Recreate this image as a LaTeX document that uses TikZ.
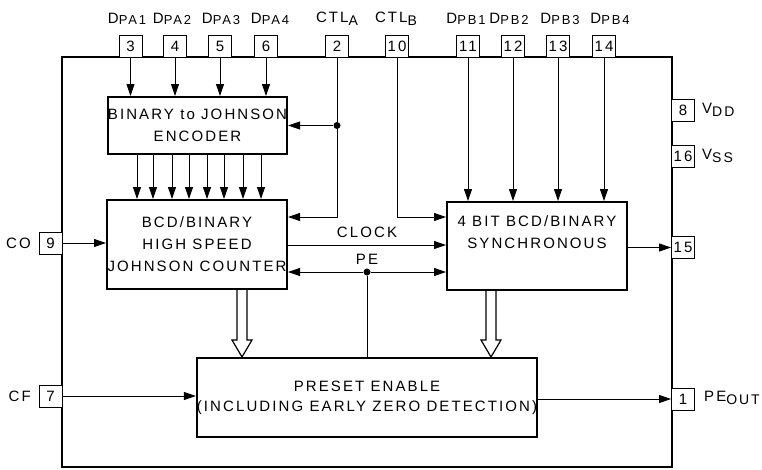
\documentclass[tikz,border=0pt]{standalone}
\usepackage{fontspec}
\setmainfont{Liberation Sans}[LetterSpace=14]
\usetikzlibrary{arrows.meta,calc}
\newcommand\mysm[1]{\raisebox{-1pt}{\fontsize{13}{13}\selectfont #1}}
\newcommand\mysub[1]{\raisebox{-3.5pt}{\fontsize{14}{14}\selectfont #1}}
\begin{document}
\begin{tikzpicture}[x=1pt,y=-1pt, font=\fontsize{15}{22}\selectfont,
 blk/.style={draw, line width=2pt, inner sep=0pt, align=center},
 pin/.style={draw, fill=white, line width=0.9pt, minimum width=23pt, minimum height=22pt, inner sep=0pt},
 arr/.style={line width=0.9pt, -{Triangle[length=12pt,width=8pt]}},
 wire/.style={line width=0.9pt},
 dot/.style={circle, fill, inner sep=0pt, minimum size=7pt},
 lbl/.style={inner sep=0pt},
 hollow/.style={line width=1.2pt, fill=white}]
\useasboundingbox (0,0) rectangle (762,469);
% chip outline
\node[draw, line width=1.5pt, minimum width=610pt, minimum height=410pt, inner sep=0pt] (chip) at (367,262) {};
% top pins
\node[pin] (p3) at (130.5,46) {3};
\node[pin] (p4) at (175,46) {4};
\node[pin] (p5) at (220,46) {5};
\node[pin] (p6) at (266,46) {6};
\node[pin] (p2) at (337,46) {2};
\node[pin] (p10) at (397,46) {10};
\node[pin] (p11) at (468,46) {11};
\node[pin] (p12) at (513,46) {12};
\node[pin] (p13) at (558,46) {13};
\node[pin] (p14) at (604,46) {14};
% right pins
\node[pin] (p8) at (683,110.5) {8};
\node[pin] (p16) at (683,156) {16};
\node[pin] (p15) at (683,247.5) {15};
\node[pin] (p1) at (683,399) {1};
% left pins
\node[pin] (p9) at (50.5,243) {9};
\node[pin] (p7) at (50.5,396) {7};
% pin labels
\node[lbl] (l3) at (127,19) {D\mysm{PA1}};
\node[lbl] (l4) at (172,19) {D\mysm{PA2}};
\node[lbl] (l5) at (221,19) {D\mysm{PA3}};
\node[lbl] (l6) at (270,19) {D\mysm{PA4}};
\node[lbl] (l2) at (337,19) {CTL\mysub{A}};
\node[lbl] (l10) at (396,19) {CTL\mysub{B}};
\node[lbl] (l11) at (466,19) {D\mysm{PB1}};
\node[lbl] (l12) at (509,19) {D\mysm{PB2}};
\node[lbl] (l13) at (560,19) {D\mysm{PB3}};
\node[lbl] (l14) at (610,19) {D\mysm{PB4}};
\node[lbl, anchor=west] (l8) at (702,110) {V\mysub{DD}};
\node[lbl, anchor=west] (l16) at (702,156) {V\mysub{SS}};
\node[lbl, anchor=west] (l1) at (704,398) {PE\mysub{OUT}};
\node[lbl, anchor=east] (l9) at (31,243) {CO};
\node[lbl, anchor=east] (l7) at (31,396) {CF};
% blocks
\node[blk, minimum width=179pt, minimum height=57pt] (enc) at (197.5,125.5) {BINARY to JOHNSON\\ENCODER};
\node[blk, minimum width=180pt, minimum height=89pt] (cnt) at (197,244.5) {BCD/BINARY\\HIGH SPEED\\JOHNSON COUNTER};
\node[blk, minimum width=180pt, minimum height=88pt] (syn) at (537,246) {4 BIT BCD/BINARY\\SYNCHRONOUS\\\strut};
\node[blk, minimum width=336pt, minimum height=79pt] (pre) at (367,397.5) {PRESET ENABLE\\[-2pt](INCLUDING EARLY ZERO DETECTION)};
% data inputs
\foreach \p in {p3,p4,p5,p6} \draw[arr] (\p.south) -- (\p.south |- enc.north);
\foreach \p in {p11,p12,p13,p14} \draw[arr] (\p.south) -- (\p.south |- syn.north);
% encoder to counter
\foreach \x in {137,153,172,189,207,224,243,261} \draw[arr] (\x,0 |- enc.south) -- (\x,0 |- cnt.north);
% CTL A
\coordinate (ca) at ($(cnt.north east)+(0,18)$);
\node[dot] (dA) at (p2.south |- enc.east) {};
\draw[wire] (p2.south) -- (dA);
\draw[arr] (dA) -- (enc.east);
\draw[arr] (dA) |- (ca);
% CTL B
\coordinate (cb) at (syn.west |- ca);
\draw[arr] (p10.south) |- (cb);
% clock
\coordinate (ck) at ($(cnt.east)+(0,0.5)$);
\draw[arr] (ck) -- (ck -| syn.west) node[lbl, midway, above=7pt] (lck) {CLOCK};
% PE
\coordinate (pey) at ($(cnt.south east)+(0,-18)$);
\node[dot] (pe) at (pre.north |- pey) {};
\draw[arr] (pe) -- (pey);
\draw[arr] (pe) -- (pe -| syn.west);
\draw[wire] (pe) -- (pre.north);
\node[lbl] (lpe) at ($(pe)+(0,-13)$) {PE};
% hollow arrows
\coordinate (ha) at (242,0 |- cnt.south);
\coordinate (hb) at (242,0 |- pre.north);
\draw[hollow] ($(ha)+(-5,0)$) -- ($(hb)+(-5,-17)$) -- ($(hb)+(-10,-17)$) -- (hb) -- ($(hb)+(10,-17)$) -- ($(hb)+(5,-17)$) -- ($(ha)+(5,0)$);
\coordinate (hc) at (491,0 |- syn.south);
\coordinate (hd) at (491,0 |- pre.north);
\draw[hollow] ($(hc)+(-5,0)$) -- ($(hd)+(-5,-17)$) -- ($(hd)+(-10,-17)$) -- (hd) -- ($(hd)+(10,-17)$) -- ($(hd)+(5,-17)$) -- ($(hc)+(5,0)$);
% outputs and side inputs
\draw[arr] (syn.east |- p15) -- (p15.west);
\draw[arr] (p9.east) -- (p9.east -| cnt.west);
\draw[arr] (p7.east) -- (p7.east -| pre.west);
\draw[arr] (pre.east |- p1) -- (p1.west);
\end{tikzpicture}
\end{document}
